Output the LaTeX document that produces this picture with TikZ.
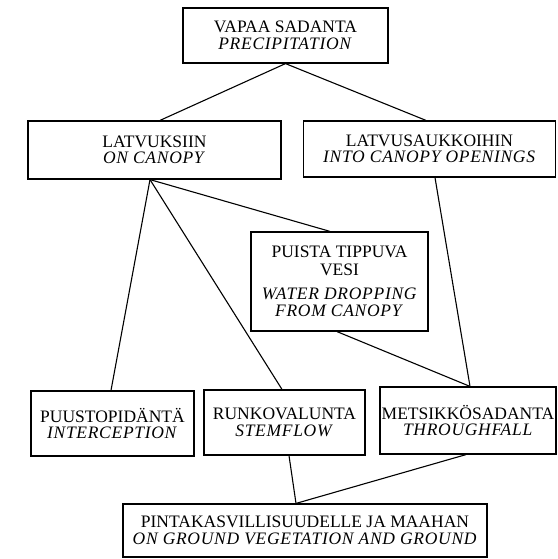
\documentclass[tikz,border=0pt]{standalone}
\usepackage{fontspec}
\setmainfont{Liberation Serif}[ItalicFeatures={LetterSpace=4}]
\begin{document}
\begin{tikzpicture}[x=1pt,y=-1pt,
  box/.style={draw, line width=1.2pt, align=center, inner sep=1pt,
    font=\fontsize{17.5}{16.5}\selectfont},
  link/.style={line width=1.1pt}]
\useasboundingbox (0,0) rectangle (557,559);
\node[box, minimum width=205pt, minimum height=55pt] (top) at (285.5,35.5)
  {VAPAA SADANTA\\\textit{PRECIPITATION}};
\node[box, minimum width=253pt, minimum height=58pt] (lat) at (154.5,150)
  {LATVUKSIIN\\\textit{ON CANOPY}};
\node[box, minimum width=252pt, minimum height=56pt] (auk) at (429.5,149)
  {LATVUSAUKKOIHIN\\\textit{INTO CANOPY OPENINGS}};
\node[box, minimum width=177pt, minimum height=99pt] (pui) at (339.5,281.5)
  {PUISTA TIPPUVA\\[1pt]VESI\\[8pt]\textit{WATER DROPPING}\\\textit{FROM CANOPY}};
\node[box, minimum width=163pt, minimum height=65pt] (puu) at (112.5,423.5)
  {PUUSTOPIDÄNTÄ\\\textit{INTERCEPTION}};
\node[box, minimum width=161pt, minimum height=65pt] (run) at (284.5,422.5)
  {RUNKOVALUNTA\\\textit{STEMFLOW}};
\node[box, minimum width=176pt, minimum height=67pt] (met) at (468,420.5)
  {METSIKKÖSADANTA\\\textit{THROUGHFALL}};
\node[box, minimum width=364pt, minimum height=53pt] (gnd) at (305,530.5)
  {PINTAKASVILLISUUDELLE JA MAAHAN\\\textit{ON GROUND VEGETATION AND GROUND}};
\draw[link] (top.south) -- ([xshift=5.5pt]lat.north);
\draw[link] (top.south) -- ([xshift=-3.5pt]auk.north);
\draw[link] ([xshift=-4.5pt]lat.south) -- ([xshift=-1.5pt]puu.north);
\draw[link] ([xshift=-4.5pt]lat.south) -- ([xshift=-2.5pt]run.north);
\draw[link] ([xshift=-4.5pt]lat.south) -- ([xshift=-9.5pt]pui.north);
\draw[link] ([xshift=5.5pt]auk.south) -- ([xshift=2pt]met.north);
\draw[link] ([xshift=-2.5pt]pui.south) -- ([xshift=2pt]met.north);
\draw[link] ([xshift=4.5pt]run.south) -- ([xshift=-9pt]gnd.north);
\draw[link] ([xshift=-2pt]met.south) -- ([xshift=-9pt]gnd.north);
\end{tikzpicture}
\end{document}
